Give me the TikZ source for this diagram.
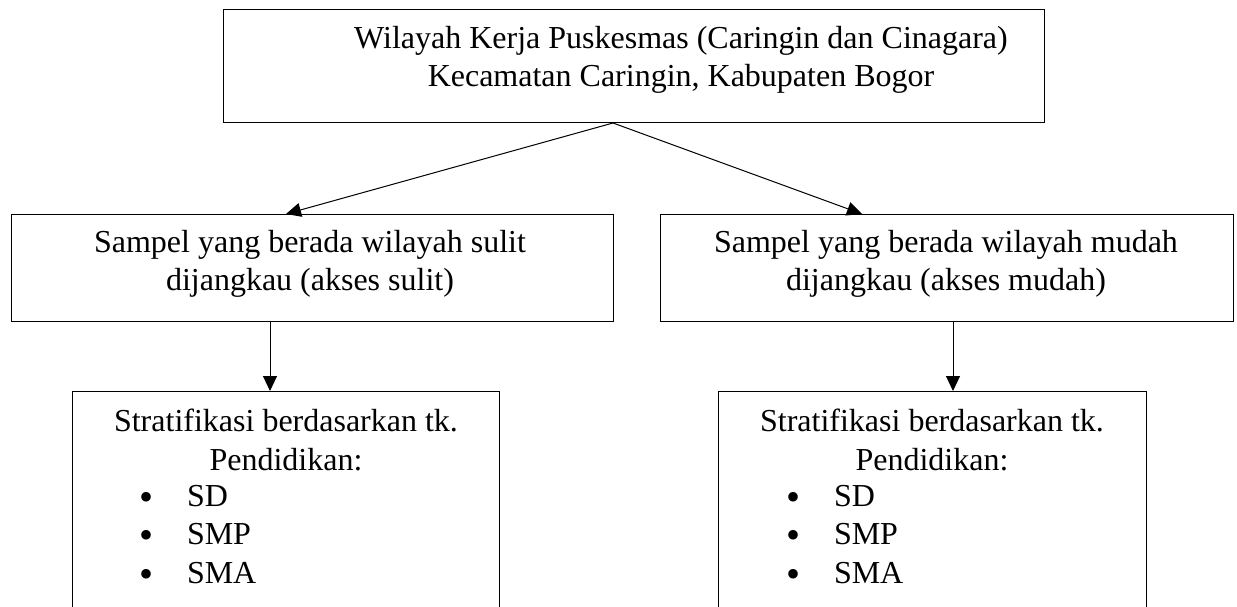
\documentclass[tikz,border=0pt]{standalone}
\usepackage{fontspec}
\setmainfont{Liberation Serif}
\usetikzlibrary{arrows.meta}
\newcommand{\bigbul}{\makebox[48pt][l]{\smash{\raisebox{-4pt}{\fontsize{40}{38.5}\selectfont •}}}}
\begin{document}
\begin{tikzpicture}[x=1pt,y=-1pt,
  box/.style={draw, line width=1pt, inner sep=0pt, outer sep=0pt, anchor=north west, rectangle},
  txt/.style={font=\fontsize{32}{38.5}\selectfont, inner sep=0pt, outer sep=0pt, align=center, anchor=north},
  lst/.style={font=\fontsize{32}{38.5}\selectfont, inner sep=0pt, outer sep=0pt, align=left, anchor=north west},
  arr/.style={line width=1pt, -{Triangle[length=15pt,width=14pt]}}]
\useasboundingbox (0,0) rectangle (1237,607);
\clip (0,0) rectangle (1237,607);
% boxes
\node[box, minimum width=821pt, minimum height=113pt] (top) at (223,10) {};
\node[box, minimum width=602pt, minimum height=107pt] (lmid) at (11,214) {};
\node[box, minimum width=573pt, minimum height=107pt] (rmid) at (660,214) {};
\node[box, minimum width=427pt, minimum height=330pt] (lbot) at (72,391) {};
\node[box, minimum width=428pt, minimum height=330pt] (rbot) at (718,391) {};
% texts
\node[txt] (toptext) at (681,26) {Wilayah Kerja Puskesmas (Caringin dan Cinagara)\\Kecamatan Caringin, Kabupaten Bogor};
\node[txt] (lmidtext) at (310,230) {Sampel yang berada wilayah sulit\\dijangkau (akses sulit)};
\node[txt] (rmidtext) at (946,230) {Sampel yang berada wilayah mudah\\dijangkau (akses mudah)};
\node[txt] (lbothead) at (286,409) {Stratifikasi berdasarkan tk.\\Pendidikan:};
\node[txt] (rbothead) at (932,409) {Stratifikasi berdasarkan tk.\\Pendidikan:};
\node[lst] (lbotlist) at (139,485) {\bigbul SD\\\bigbul SMP\\\bigbul SMA};
\node[lst] (rbotlist) at (786,485) {\bigbul SD\\\bigbul SMP\\\bigbul SMA};
% connectors
\coordinate (apex) at (613,123);
\coordinate (tipL) at (286,214);
\coordinate (tipR) at (862,214);
\coordinate (vL) at (270,321);
\coordinate (vR) at (953,321);
\draw[arr] (apex) -- (tipL);
\draw[arr] (apex) -- (tipR);
\draw[arr] (vL) -- (vL |- lbot.north);
\draw[arr] (vR) -- (vR |- rbot.north);
\end{tikzpicture}
\end{document}
